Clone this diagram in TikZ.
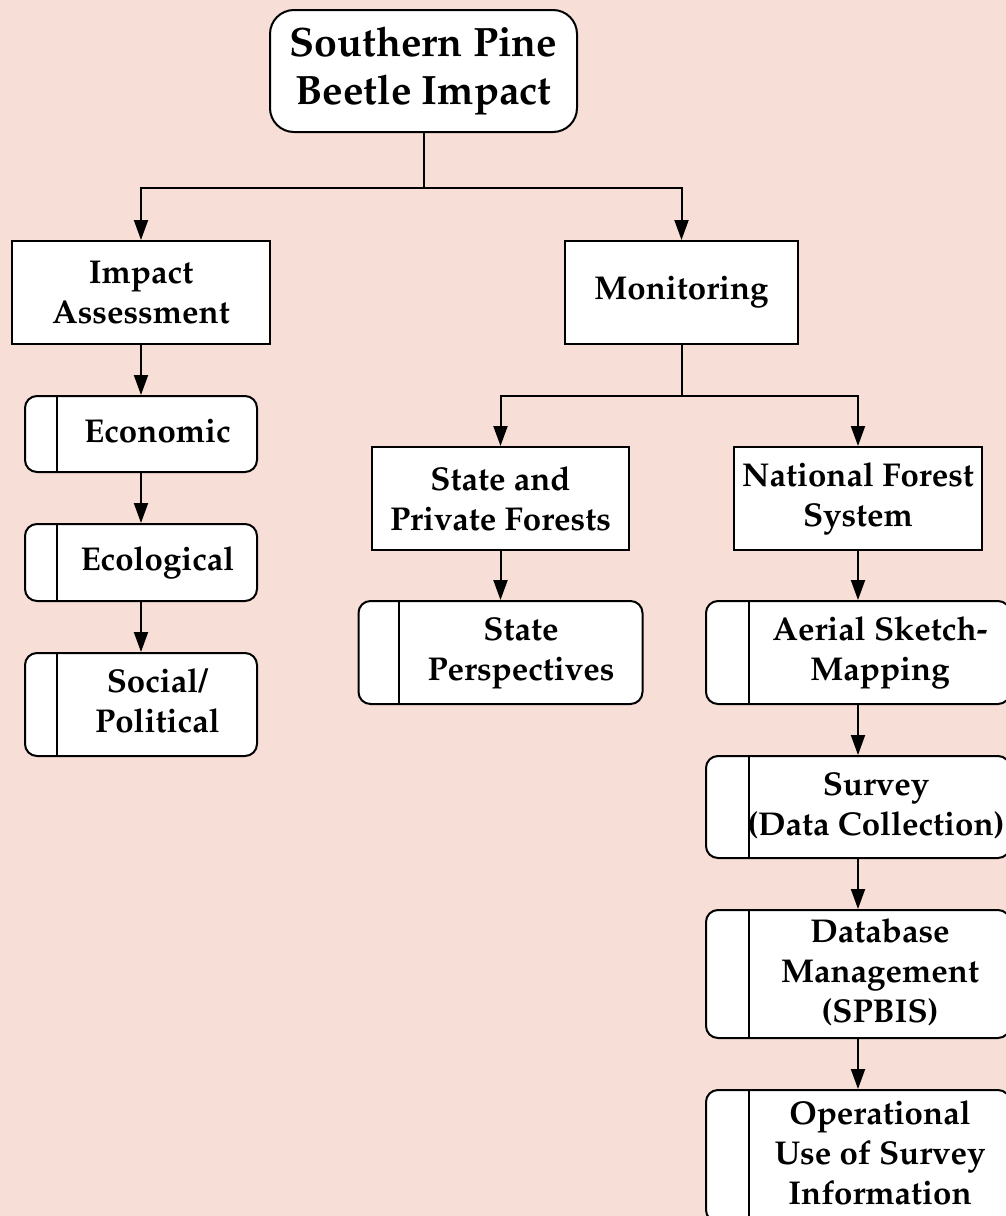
\documentclass[tikz,border=0pt]{standalone}
\usepackage[T1]{fontenc}
\usepackage{palatino}
\usetikzlibrary{arrows.meta}
\definecolor{bgpink}{RGB}{247,223,215}
\newcommand{\tabtext}[2]{\hspace*{#1}\begin{tabular}{@{}c@{}}#2\end{tabular}}

\begin{document}
\begin{tikzpicture}[x=0.5pt,y=-0.5pt,
  box/.style={draw, fill=white, line width=1pt, inner sep=0pt,
    font=\bfseries\fontsize{16.5}{20}\selectfont},
  plain/.style={box, align=center},
  tab/.style={box, rounded corners=6pt},
  dims/.style 2 args={minimum width=#1*0.5pt, minimum height=#2*0.5pt},
  link/.style={line width=1pt},
  arr/.style={link, -{Triangle[width=7pt,length=10pt]}}]
  \useasboundingbox (0,0) rectangle (1006,1216);
  \fill[bgpink] (0,0) rectangle (1006,1216);
  \clip (0,0) rectangle (1006,1216);

  \node[box, rounded corners=12pt, align=center, dims={307}{122},
    font=\bfseries\fontsize{20.5}{24}\selectfont] (root) at (423.5,71)
    {Southern Pine\\Beetle Impact};

  \node[plain, dims={258}{103}] (imp) at (141,292.5) {Impact\\Assessment};
  \node[plain, dims={233}{103}] (mon) at (681.5,292.5) {Monitoring};

  \node[tab, dims={232}{76}] (eco) at (141,434) {\tabtext{16.5pt}{Economic}};
  \node[tab, dims={232}{77}] (ecl) at (141,562.5) {\tabtext{16.5pt}{Ecological}};
  \node[tab, dims={232}{103}] (soc) at (141,704.5) {\tabtext{16.5pt}{Social/\\Political}};

  \node[plain, dims={257}{103}] (spf) at (500.5,498.5) {State and\\Private Forests};
  \node[plain, dims={248}{103}] (nfs) at (858,498.5) {National Forest\\System};

  \node[tab, dims={284}{103}] (stp) at (500.5,652.5) {\tabtext{20.5pt}{State\\Perspectives}};
  \node[tab, dims={304}{103}] (asm) at (858,652.5) {\tabtext{22pt}{Aerial Sketch-\\Mapping}};
  \node[tab, dims={304}{102}] (sur) at (858,807) {\tabtext{18pt}{Survey\\(Data Collection)}};
  \node[tab, dims={304}{128}] (dbm) at (858,974) {\tabtext{22pt}{Database\\Management\\(SPBIS)}};
  \node[tab, dims={304}{132}] (opu) at (858,1156) {\tabtext{22pt}{Operational\\Use of Survey\\Information}};

  % side stripes
  \foreach \n/\d in {eco/33, ecl/33, soc/33, stp/41, asm/44, sur/44, dbm/44, opu/44}
    \draw[link] ([xshift=\d*0.5pt]\n.north west) -- ([xshift=\d*0.5pt]\n.south west);

  \coordinate (rootsplit) at (423.5,188);
  \coordinate (monsplit) at (681.5,396);
  \draw[link] (root) -- (rootsplit);
  \draw[arr] (rootsplit) -| (imp);
  \draw[arr] (rootsplit) -| (mon);
  \draw[link] (mon) -- (monsplit);
  \draw[arr] (monsplit) -| (spf);
  \draw[arr] (monsplit) -| (nfs);
  \foreach \a/\b in {imp/eco, eco/ecl, ecl/soc, spf/stp, nfs/asm, asm/sur, sur/dbm, dbm/opu}
    \draw[arr] (\a) -- (\b);
\end{tikzpicture}
\end{document}
